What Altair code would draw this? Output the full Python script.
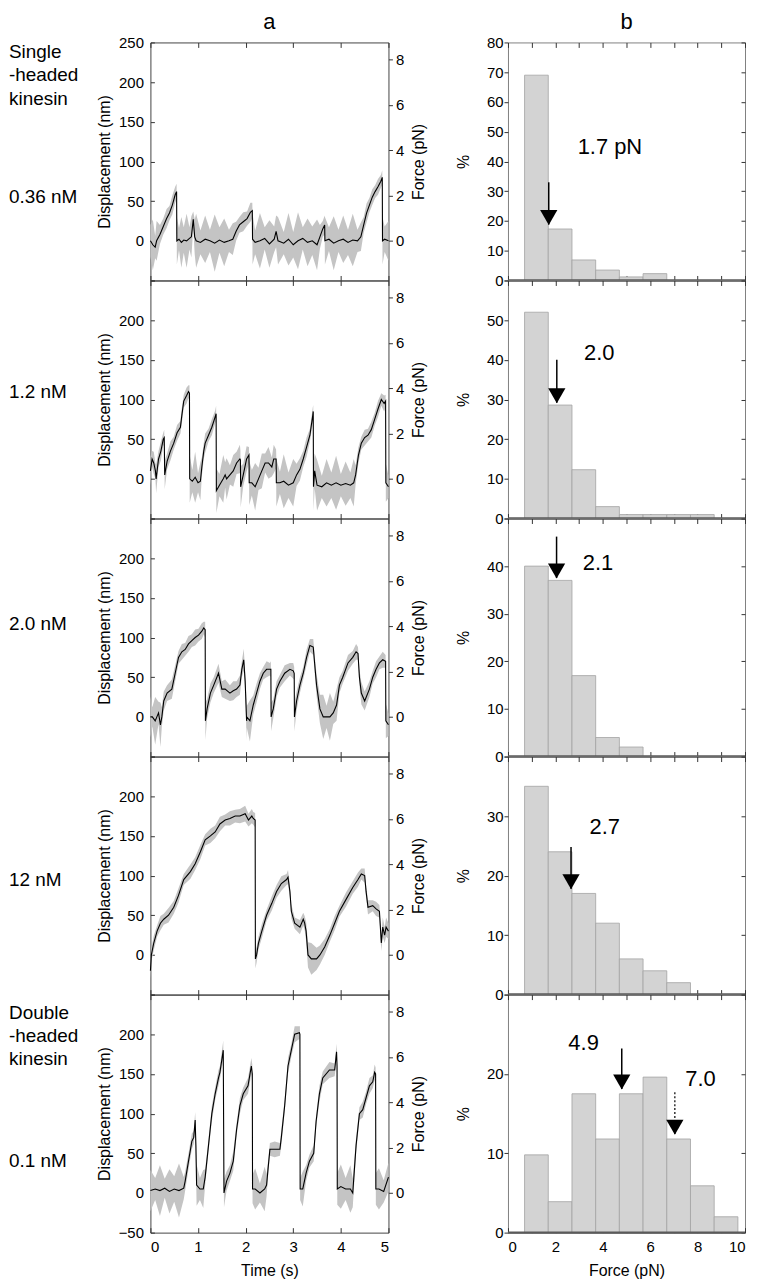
import altair as alt
import pandas as pd

FONT = "Liberation Sans"
K_TRAP = 0.035  # trap stiffness, pN per nm (links the two y axes)

# ---------------- column a : displacement traces ----------------
# Row 1 : single-headed kinesin 0.36 nM  (t in s, filtered trace D and raw-noise half width N in nm)
T1 = [0.00, 0.05, 0.10, 0.13, 0.20, 0.27, 0.34, 0.40, 0.46, 0.52,
      0.55, 0.555, 0.60, 0.65, 0.70, 0.76, 0.82, 0.86, 0.90, 0.93,
      0.96, 1.05, 1.15, 1.25, 1.35, 1.45, 1.55, 1.65, 1.73, 1.80,
      1.87, 1.95, 2.03, 2.10, 2.14, 2.145, 2.20, 2.30, 2.40, 2.50,
      2.60, 2.64, 2.68, 2.80, 2.90, 3.00, 3.10, 3.20, 3.30, 3.40,
      3.50, 3.56, 3.62, 3.66, 3.665, 3.75, 3.85, 3.95, 4.05, 4.15,
      4.25, 4.35, 4.42, 4.48, 4.54, 4.60, 4.66, 4.72, 4.78, 4.84,
      4.87, 4.875, 4.92, 5.00]
D1 = [0, -5, -8, 0, 8, 18, 28, 35, 45, 58,
      62, 0, 2, -2, 1, 0, 3, 5, 27, 5,
      0, -2, 2, 0, -3, 1, -2, 0, 2, 12,
      20, 24, 28, 36, 38, 2, -2, 0, 3, -4,
      2, 12, 0, -3, 2, -5, 0, 3, -2, 0,
      -5, 5, 15, 20, 0, 2, -3, 0, 2, -2,
      1, 0, 5, 20, 35, 45, 55, 62, 68, 75,
      80, 0, 2, 0]
N1 = [20, 32, 14, 25, 12, 10, 12, 9, 12, 10,
      10, 30, 14, 32, 16, 34, 14, 26, 10, 22,
      34, 15, 30, 14, 36, 16, 30, 14, 20, 12,
      10, 12, 9, 12, 10, 32, 15, 35, 14, 30,
      16, 20, 30, 14, 33, 16, 36, 14, 30, 18,
      32, 15, 10, 12, 30, 15, 34, 14, 30, 16,
      33, 14, 18, 10, 12, 9, 10, 8, 10, 8,
      9, 30, 16, 25]

# Row 2 : 1.2 nM
T2 = [0.00, 0.035, 0.07, 0.105, 0.12, 0.17, 0.22, 0.27, 0.29, 0.30,
      0.35, 0.42, 0.49, 0.56, 0.63, 0.66, 0.70, 0.76, 0.80, 0.82,
      0.825, 0.88, 0.94, 1.00, 1.05, 1.08, 1.12, 1.15, 1.22, 1.29,
      1.36, 1.38, 1.385, 1.45, 1.53, 1.57, 1.60, 1.67, 1.74, 1.81,
      1.88, 1.89, 1.895, 1.95, 2.02, 2.07, 2.075, 2.13, 2.20, 2.27,
      2.34, 2.41, 2.48, 2.55, 2.59, 2.64, 2.645, 2.72, 2.80, 2.90,
      3.00, 3.07, 3.14, 3.21, 3.28, 3.35, 3.41, 3.42, 3.425, 3.45,
      3.50, 3.60, 3.70, 3.80, 3.90, 4.00, 4.10, 4.20, 4.27, 4.31,
      4.37, 4.43, 4.50, 4.57, 4.64, 4.71, 4.78, 4.85, 4.91, 4.94,
      4.945, 5.00]
D2 = [10, 25, 20, 10, 0, 25, 35, 50, 52, 5,
      22, 35, 45, 58, 65, 80, 98, 105, 110, 108,
      0, -3, 2, -5, -3, 15, 35, 45, 55, 65,
      78, 82, -15, -8, 0, 5, 0, 5, 10, 20,
      25, 24, -10, 5, 25, 30, -5, -5, -10, 0,
      10, 20, 20, 15, 25, 25, -5, -5, -3, -8,
      -5, 5, 12, 25, 40, 55, 80, 85, -10, 10,
      -8, -10, -5, -8, -5, -8, -6, -8, -5, 5,
      30, 45, 52, 55, 62, 75, 88, 100, 95, 98,
      -5, -10]
N2 = [18, 10, 14, 10, 18, 10, 12, 8, 10, 18,
      10, 12, 8, 10, 8, 10, 8, 10, 8, 10,
      30, 14, 32, 12, 24, 12, 10, 12, 8, 10,
      8, 10, 28, 14, 30, 16, 26, 12, 20, 14,
      18, 12, 26, 14, 16, 10, 28, 16, 30, 14,
      22, 12, 20, 12, 18, 12, 30, 14, 34, 16,
      30, 14, 14, 10, 12, 8, 10, 8, 30, 22,
      32, 14, 30, 16, 34, 14, 28, 16, 30, 12,
      10, 8, 10, 8, 10, 8, 10, 8, 10, 8,
      24, 14]

# Row 3 : 2.0 nM
T3 = [0.00, 0.04, 0.10, 0.17, 0.21, 0.24, 0.28, 0.35, 0.45, 0.52,
      0.59, 0.66, 0.73, 0.80, 0.87, 0.94, 1.01, 1.08, 1.12, 1.15,
      1.155, 1.19, 1.26, 1.33, 1.43, 1.50, 1.57, 1.67, 1.74, 1.81,
      1.88, 1.92, 1.96, 1.99, 2.02, 2.025, 2.09, 2.16, 2.23, 2.30,
      2.37, 2.44, 2.51, 2.53, 2.535, 2.58, 2.65, 2.72, 2.82, 2.93,
      3.00, 3.02, 3.025, 3.07, 3.14, 3.21, 3.28, 3.35, 3.42, 3.46,
      3.49, 3.56, 3.63, 3.70, 3.77, 3.84, 3.91, 3.97, 4.04, 4.15,
      4.25, 4.32, 4.36, 4.39, 4.43, 4.50, 4.60, 4.67, 4.74, 4.81,
      4.88, 4.94, 4.945, 5.00]
D3 = [0, 0, -5, 5, -10, 0, 20, 30, 35, 55,
      75, 82, 85, 92, 96, 100, 103, 108, 112, 110,
      -5, 10, 30, 40, 55, 35, 35, 30, 33, 35,
      40, 60, 72, 45, -5, 0, -5, 15, 30, 45,
      55, 60, 60, 60, 0, 10, 35, 45, 55, 60,
      58, 55, 0, 20, 40, 55, 75, 90, 88, 60,
      40, 10, 0, 0, 0, 5, 15, 40, 50, 68,
      75, 82, 80, 50, 30, 20, 35, 50, 60, 68,
      72, 70, -5, -10]
N3 = [26, 12, 30, 14, 28, 12, 12, 10, 12, 10,
      8, 10, 8, 10, 8, 10, 8, 10, 8, 10,
      24, 12, 12, 10, 12, 10, 12, 10, 12, 10,
      12, 10, 14, 12, 24, 14, 26, 12, 12, 10,
      8, 10, 8, 10, 18, 12, 10, 8, 10, 8,
      10, 8, 18, 12, 10, 8, 10, 8, 10, 12,
      14, 18, 28, 14, 30, 14, 20, 10, 8, 10,
      8, 10, 8, 10, 14, 12, 10, 8, 10, 8,
      10, 8, 22, 14]

# Row 4 : 12 nM
T4 = [0.00, 0.02, 0.07, 0.14, 0.21, 0.28, 0.38, 0.49, 0.59, 0.70,
      0.84, 0.94, 1.05, 1.15, 1.26, 1.36, 1.46, 1.57, 1.67, 1.78,
      1.88, 1.99, 2.06, 2.13, 2.16, 2.20, 2.205, 2.23, 2.27, 2.34,
      2.44, 2.55, 2.65, 2.75, 2.86, 2.89, 2.93, 2.96, 3.03, 3.14,
      3.21, 3.24, 3.27, 3.31, 3.38, 3.49, 3.56, 3.66, 3.77, 3.87,
      3.97, 4.11, 4.25, 4.36, 4.43, 4.50, 4.53, 4.57, 4.67, 4.74,
      4.81, 4.85, 4.88, 4.92, 4.95, 5.00]
D4 = [-20, 0, 15, 30, 40, 45, 50, 60, 75, 95,
      105, 115, 130, 145, 150, 155, 165, 170, 172, 175,
      175, 178, 170, 175, 172, 170, -5, 0, 15, 30,
      50, 65, 80, 90, 95, 98, 80, 55, 40, 35,
      45, 40, 30, 0, -5, -5, 0, 10, 25, 40,
      55, 70, 85, 95, 102, 100, 80, 60, 62, 58,
      55, 15, 35, 25, 35, 30]
N4 = [10, 8, 9, 7, 9, 7, 9, 8, 9, 7,
      9, 8, 9, 7, 9, 8, 9, 7, 9, 8,
      9, 10, 8, 9, 8, 9, 12, 10, 8, 9,
      7, 9, 8, 9, 7, 9, 8, 9, 7, 9,
      8, 9, 12, 16, 20, 14, 12, 10, 8, 9,
      7, 9, 8, 9, 7, 9, 8, 9, 7, 9,
      8, 10, 12, 10, 12, 10]

# Row 5 : double-headed kinesin 0.1 nM
T5 = [0.00, 0.10, 0.20, 0.30, 0.40, 0.50, 0.60, 0.70, 0.73, 0.80,
      0.87, 0.91, 0.94, 0.955, 0.97, 1.04, 1.11, 1.15, 1.22, 1.29,
      1.36, 1.43, 1.46, 1.53, 1.545, 1.60, 1.67, 1.74, 1.81, 1.88,
      1.95, 2.05, 2.12, 2.14, 2.145, 2.20, 2.30, 2.40, 2.44, 2.47,
      2.51, 2.61, 2.72, 2.75, 2.82, 2.89, 2.96, 3.03, 3.13, 3.14,
      3.145, 3.20, 3.27, 3.34, 3.43, 3.48, 3.55, 3.62, 3.76, 3.87,
      3.91, 3.92, 3.925, 4.00, 4.10, 4.20, 4.25, 4.32, 4.39, 4.46,
      4.53, 4.60, 4.67, 4.71, 4.73, 4.735, 4.80, 4.90, 5.00]
D5 = [3, 5, 3, 6, 2, 5, 3, 6, 15, 40,
      65, 70, 92, 60, 10, 5, 5, 20, 60, 100,
      125, 145, 152, 180, 0, 15, 25, 40, 80, 110,
      125, 135, 160, 150, 5, 5, 0, 5, 10, 30,
      55, 55, 55, 70, 110, 160, 180, 200, 202, 200,
      5, 5, 25, 40, 50, 90, 125, 145, 155, 155,
      178, 160, 5, 8, 5, 5, 0, 60, 100, 105,
      120, 135, 140, 152, 150, 5, 5, 2, 20]
N5 = [26, 14, 32, 12, 28, 16, 34, 14, 12, 10,
      10, 8, 10, 22, 26, 14, 24, 10, 8, 10,
      8, 10, 8, 12, 18, 12, 10, 12, 8, 10,
      8, 10, 10, 12, 18, 26, 12, 28, 14, 10,
      8, 10, 8, 10, 8, 10, 8, 10, 8, 10,
      14, 22, 10, 8, 10, 8, 10, 8, 10, 8,
      10, 12, 20, 28, 14, 30, 18, 10, 8, 10,
      8, 10, 8, 10, 8, 20, 26, 14, 18]

TIME_TICKS = [0, 1, 2, 3, 4, 5]
DISP_TICKS = [-50, 0, 50, 100, 150, 200, 250]
FORCE_TICKS = [0, 2, 4, 6, 8]

# ---------------- column b : force histograms ----------------
BIN_START = [0.7, 1.7, 2.7, 3.7, 4.7, 5.7, 6.7, 7.7, 8.7]
BIN_END = [1.7, 2.7, 3.7, 4.7, 5.7, 6.7, 7.7, 8.7, 9.7]
P1 = [69, 17.3, 6.9, 3.5, 1.2, 2.3]
P2 = [52, 28.6, 12.3, 3.0, 1.0, 1.0, 1.0, 1.0]
P3 = [40, 37, 17, 4, 2]
P4 = [35, 24, 17, 12, 6, 4, 2]
P5 = [9.8, 3.9, 17.5, 11.8, 17.5, 19.6, 11.8, 5.9, 2.0]
HIST_YMAX = [80, 60, 50, 40, 30]
HIST_LABEL_MAX = [80, 50, 40, 30, 20]
FORCE_BIN_TICKS = [0, 1, 2, 3, 4, 5, 6, 7, 8, 9, 10]

# mean-force arrows: x position, arrow tail, arrow tip (in %), dotted?
ARROWS = [
    [(1.72, 33.0, 18.8, False)],
    [(2.06, 40.0, 29.2, False)],
    [(2.05, 46.2, 37.5, False)],
    [(2.66, 24.8, 17.8, False)],
    [(4.80, 23.2, 18.1, False), (7.04, 17.7, 12.4, True)],
]
NOTES = [
    [(4.3, 44.7, "1.7 pN")],
    [(3.85, 41.8, "2.0")],
    [(3.8, 40.7, "2.1")],
    [(4.08, 28.2, "2.7")],
    [(3.19, 23.9, "4.9"), (8.12, 19.4, "7.0")],
]

ROW_LABELS = [
    [("Single", 10), ("-headed", 33), ("kinesin", 57), ("0.36 nM", 155)],
    [("1.2 nM", 112)],
    [("2.0 nM", 106)],
    [("12 nM", 124)],
    [("Double", 19), ("-headed", 42), ("kinesin", 65), ("0.1 nM", 167)],
]

TRACES = [(T1, D1, N1), (T2, D2, N2), (T3, D3, N3), (T4, D4, N4), (T5, D5, N5)]
HISTS = [P1, P2, P3, P4, P5]
ROW_H = 239
W_TRACE = 239
W_HIST = 238
DISP_EXPR = [
    "datum.value < 0 ? '' : datum.label",
    "datum.value < 0 || datum.value > 200 ? '' : datum.label",
    "datum.value < 0 || datum.value > 200 ? '' : datum.label",
    "datum.value < 0 || datum.value > 200 ? '' : datum.label",
    "datum.value > 200 ? '' : datum.label",
]


def text_layer(s, x, y, size, align="left", baseline="middle"):
    return alt.Chart(pd.DataFrame({"s": [s]})).mark_text(
        font=FONT, fontSize=size, align=align, baseline=baseline, color="black"
    ).encode(x=alt.value(x), y=alt.value(y), text="s:N")


def trace_panel(i):
    T, D, N = TRACES[i]
    last = i == 4
    df = pd.DataFrame({"t": T, "d": D})
    df["lo"] = [d - n for d, n in zip(D, N)]
    df["hi"] = [d + n for d, n in zip(D, N)]
    xs = alt.Scale(domain=[0, 5], nice=False, zero=False)
    ys = alt.Scale(domain=[-50, 250], nice=False)
    x_bottom = alt.Axis(orient="bottom", values=TIME_TICKS, offset=-5, tickSize=5,
                        domain=False, grid=False, labels=last, labelPadding=7,
                        title="Time (s)" if last else None, titlePadding=8, format="d")
    x_top = alt.Axis(orient="top", values=TIME_TICKS, offset=-5, tickSize=5,
                     domain=False, grid=False, labels=False, title=None)
    y_left = alt.Axis(orient="left", values=DISP_TICKS, labelExpr=DISP_EXPR[i],
                      offset=-4, tickSize=4, domain=False, grid=False, labelPadding=7,
                      title="Displacement (nm)", titlePadding=6)
    y_force = alt.Axis(orient="right", values=FORCE_TICKS, tickSize=4, domain=False,
                       grid=False, labelPadding=3, title="Force (pN)",
                       titleAngle=270, titleBaseline="top", titlePadding=7)
    band = alt.Chart(df).mark_area(color="#c4c4c4", opacity=1).encode(
        x=alt.X("t:Q", scale=xs, axis=x_bottom),
        y=alt.Y("lo:Q", scale=ys, axis=y_left),
        y2="hi:Q",
    )
    line = alt.Chart(df).mark_line(color="black", strokeWidth=1.1).encode(
        x=alt.X("t:Q", scale=xs, axis=x_top),
        y=alt.Y("d:Q", scale=ys, axis=None),
    )
    force = alt.Chart(pd.DataFrame({"f": FORCE_TICKS})).mark_point(opacity=0).encode(
        x=alt.value(0),
        y=alt.Y("f:Q", scale=alt.Scale(domain=[-50 * K_TRAP, 250 * K_TRAP], nice=False),
                axis=y_force),
    )
    layers = [band, line, force]
    for s, yy in ROW_LABELS[i]:
        layers.append(text_layer(s, -142, yy, 19))
    if i == 0:
        layers.append(text_layer("a", W_TRACE / 2, -13, 22, align="center", baseline="alphabetic"))
    return alt.layer(*layers).resolve_scale(y="independent").resolve_axis(
        x="independent", y="independent"
    ).properties(width=W_TRACE, height=ROW_H,
                 view=alt.ViewBackground(stroke="#444", strokeWidth=1))


def hist_panel(i):
    P = HISTS[i]
    last = i == 4
    ymax = HIST_YMAX[i]
    yticks = list(range(0, ymax + 1, 10))
    dfh = pd.DataFrame({"x0": BIN_START[:len(P)], "x1": BIN_END[:len(P)], "p": P})
    dfh["zero"] = 0
    xs = alt.Scale(domain=[0, 10], nice=False, zero=False)
    ys = alt.Scale(domain=[0, ymax], nice=False)
    x_bottom = alt.Axis(orient="bottom", values=FORCE_BIN_TICKS, offset=-5, tickSize=5,
                        domain=False, grid=False, labels=last, labelPadding=7,
                        labelExpr="datum.value % 2 == 0 ? datum.label : ''",
                        title="Force (pN)" if last else None, titlePadding=8)
    x_top = alt.Axis(orient="top", values=FORCE_BIN_TICKS, offset=-5, tickSize=5,
                     domain=False, grid=False, labels=False, title=None)
    y_left = alt.Axis(orient="left", values=yticks,
                      labelExpr=f"datum.value <= {HIST_LABEL_MAX[i]} ? datum.label : ''",
                      tickSize=4, domain=False, grid=False, labelPadding=1,
                      title="%", titlePadding=15)
    y_right = alt.Axis(orient="right", values=yticks, offset=-4, tickSize=4,
                       domain=False, grid=False, labels=False, title=None)
    bars = alt.Chart(dfh).mark_rect(fill="#d3d3d3", stroke="#a3a3a3", strokeWidth=0.8).encode(
        x=alt.X("x0:Q", scale=xs, axis=x_bottom),
        x2="x1:Q",
        y=alt.Y("p:Q", scale=ys, axis=y_left),
        y2="zero:Q",
    )
    base_rule = alt.Chart(pd.DataFrame({"b": [0]})).mark_rule(color="#5a5a5a", strokeWidth=2.5).encode(
        y=alt.Y("b:Q", scale=ys, axis=None)
    )
    arr = pd.DataFrame(ARROWS[i], columns=["x", "top", "tip", "dotted"])
    solid = arr[~arr["dotted"]]
    dotted = arr[arr["dotted"]]
    shaft = alt.Chart(solid).mark_rule(color="black", strokeWidth=1.5).encode(
        x=alt.X("x:Q", scale=xs, axis=x_top),
        y=alt.Y("top:Q", scale=ys, axis=y_right),
        y2="tip:Q",
    )
    heads = alt.Chart(arr).mark_point(shape="triangle-down", filled=True, color="black",
                                      opacity=1, size=300, yOffset=-7).encode(
        x=alt.X("x:Q", scale=xs, axis=None),
        y=alt.Y("tip:Q", scale=ys, axis=None),
    )
    layers = [bars, base_rule, shaft]
    if len(dotted):
        layers.append(alt.Chart(dotted).mark_rule(color="black", strokeWidth=1.2,
                                                  strokeDash=[2, 2]).encode(
            x=alt.X("x:Q", scale=xs, axis=None),
            y=alt.Y("top:Q", scale=ys, axis=None),
            y2="tip:Q",
        ))
    layers.append(heads)
    notes = pd.DataFrame(NOTES[i], columns=["x", "y", "s"])
    layers.append(alt.Chart(notes).mark_text(font=FONT, fontSize=22, color="black").encode(
        x=alt.X("x:Q", scale=xs, axis=None),
        y=alt.Y("y:Q", scale=ys, axis=None),
        text="s:N",
    ))
    if i == 0:
        layers.append(text_layer("b", W_HIST / 2, -13, 22, align="center", baseline="alphabetic"))
    return alt.layer(*layers).resolve_axis(x="independent", y="independent").properties(
        width=W_HIST, height=ROW_H,
        view=alt.ViewBackground(stroke="#808080", strokeWidth=1))


panels = []
for i in range(5):
    panels.append(trace_panel(i))
    panels.append(hist_panel(i))

chart = alt.concat(*panels, columns=2, spacing={"row": 0, "column": 120},
                   bounds="flush").properties(
    padding={"left": 0, "top": 0, "right": 2, "bottom": 2}
).configure(font=FONT).configure_axis(
    labelFont=FONT, titleFont=FONT, labelFontSize=15, titleFontSize=16,
    labelColor="black", titleColor="black", tickColor="#333",
    titleFontWeight="normal",
).configure_view(stroke="#444")

chart.save("out.html", embed_options={"renderer": "svg", "actions": False})
